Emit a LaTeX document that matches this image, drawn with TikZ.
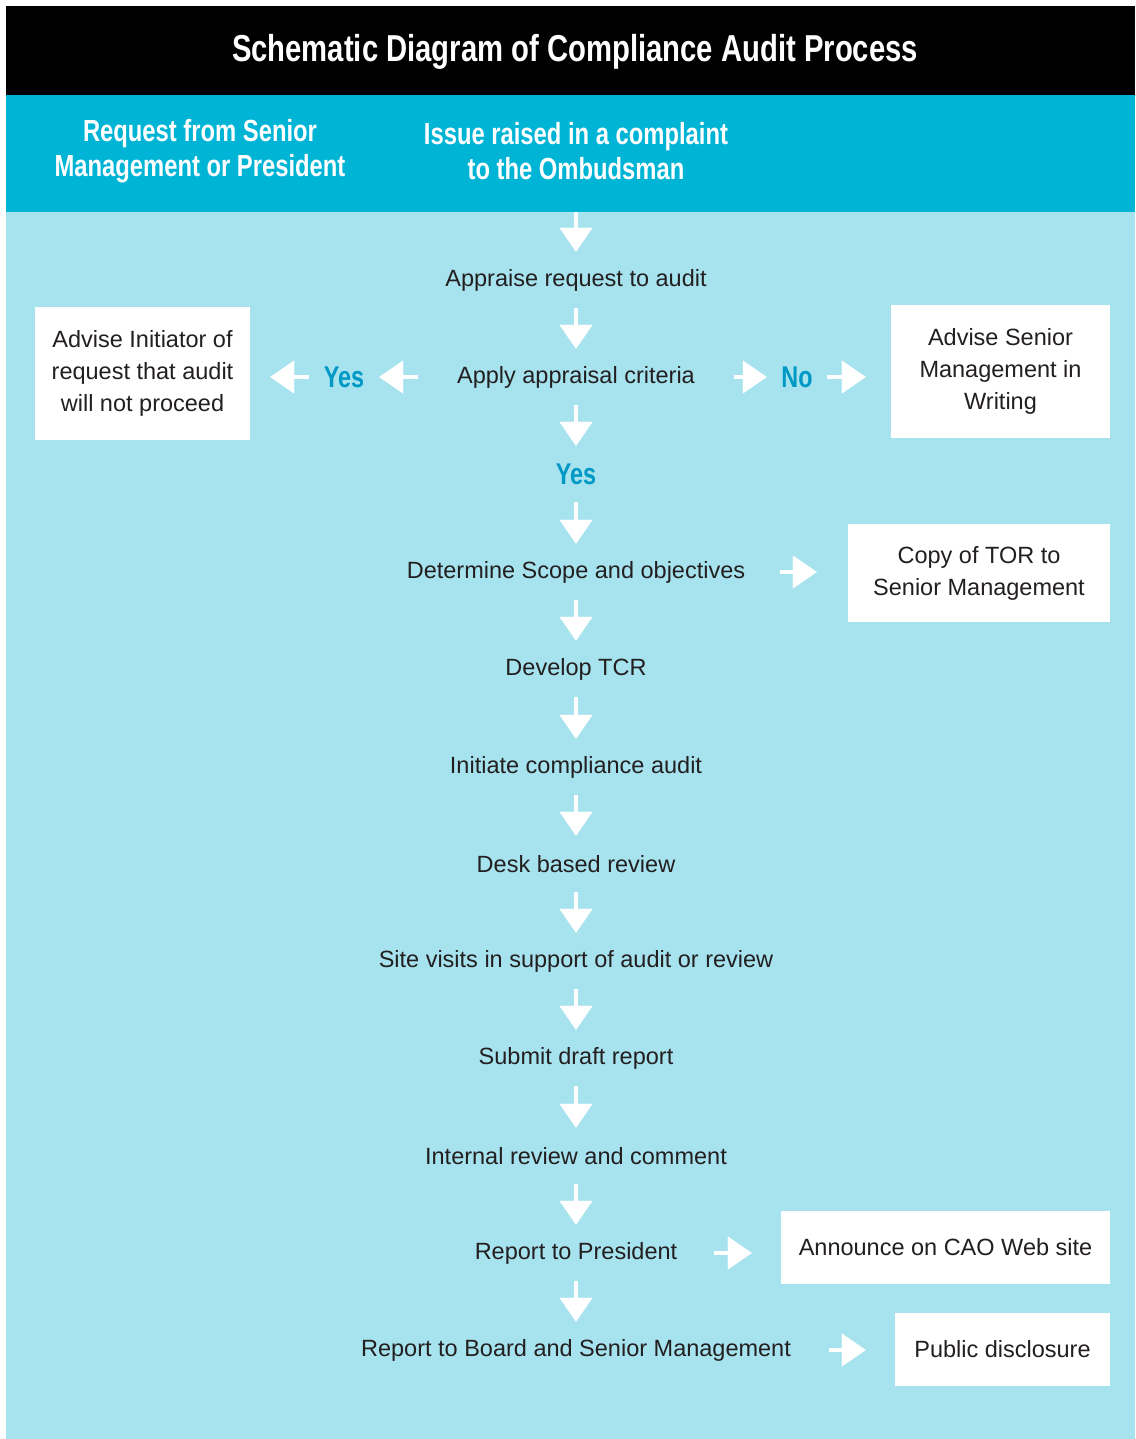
\documentclass[tikz,border=0pt]{standalone}
\usepackage{fontspec}
\setmainfont{Liberation Sans}
\newfontfamily\condfont[FakeStretch=0.78]{Liberation Sans}
\usetikzlibrary{positioning, arrows.meta}
\definecolor{cyanband}{HTML}{00B4D6}
\definecolor{paleblue}{HTML}{A6E3EE}
\definecolor{yesblue}{HTML}{0099C6}
\definecolor{bodytext}{HTML}{231F20}

\begin{document}
\begin{tikzpicture}[x=1pt, y=-1pt,
      stp/.style={minimum height=56pt, inner xsep=0pt, align=center, text=bodytext, font=\fontsize{23.5}{32}\selectfont},
      lbl/.style={stp, text=yesblue, font=\condfont\bfseries\fontsize{30}{32}\selectfont},
      box/.style={fill=white, inner sep=0pt, align=center, text=bodytext, font=\fontsize{23.5}{32}\selectfont},
      hd/.style={text=white, align=center, font=\condfont\bfseries\fontsize{30.5}{35}\selectfont},
      arr/.style={-{Triangle[width=33pt,length=24pt,line width=0.1pt]}, line width=4.5pt, white}]
      \useasboundingbox (0,0) rectangle (1135,1439);
      \fill[paleblue] (6,212) rectangle (1135,1439);
      \fill[black] (6,6) rectangle (1135,95);
      \fill[cyanband] (6,95) rectangle (1135,212);
      % header
      \node[hd, font=\condfont\bfseries\fontsize{37.5}{40}\selectfont] (title) at (575,52) {Schematic Diagram of Compliance Audit Process};
      \node[hd] (req) at (200,151) {Request from Senior\\Management or President};
      \node[hd] (iss) at (576,151) {Issue raised in a complaint\\to the Ombudsman};
      \coordinate (top) at (576,212);
      % main flow
      \node[stp] (appr) at (576,280) {Appraise request to audit};
      \node[stp, minimum width=316pt] (crit) at (576,377) {Apply appraisal criteria};
      \node[lbl] (yes) at (576,474) {Yes};
      \node[stp, minimum width=408pt] (scope) at (576,572) {Determine Scope and objectives};
      \node[stp] (tcr) at (576,669) {Develop TCR};
      \node[stp] (init) at (576,767) {Initiate compliance audit};
      \node[stp] (desk) at (576,864) {Desk based review};
      \node[stp] (site) at (576,961) {Site visits in support of audit or review};
      \node[stp] (draft) at (576,1058) {Submit draft report};
      \node[stp] (intl) at (576,1156) {Internal review and comment};
      \node[stp, minimum width=276pt] (pres) at (576,1253) {Report to President};
      \node[stp, minimum width=506pt] (board) at (576,1350) {Report to Board and Senior Management};
      % branches
      \node[lbl, minimum width=70pt, minimum height=0pt] (yesl) at (344,377) {Yes};
      \node[lbl, minimum width=60pt, minimum height=0pt] (no) at (797,377) {No};
      \node[box, minimum width=215pt, minimum height=133pt] (nogo) at (142.5,373.5) {Advise Initiator of\\request that audit\\will not proceed};
      \node[box, minimum width=219pt, minimum height=133pt] (advs) at (1000.5,371.5) {Advise Senior\\Management in\\Writing};
      \node[box, minimum width=262pt, minimum height=98pt] (tor) at (979,573) {Copy of TOR to\\Senior Management};
      \node[box, minimum width=329pt, minimum height=73pt] (web) at (945.5,1247.5) {Announce on CAO Web site};
      \node[box, minimum width=215pt, minimum height=73pt] (pub) at (1002.5,1349.5) {Public disclosure};
      % arrows
      \draw[arr](top)--(appr);\draw[arr](appr)--(crit);\draw[arr](crit)--(yes);\draw[arr](yes)--(scope);
      \draw[arr](scope)--(tcr);\draw[arr](tcr)--(init);\draw[arr](init)--(desk);\draw[arr](desk)--(site);
      \draw[arr](site)--(draft);\draw[arr](draft)--(intl);\draw[arr](intl)--(pres);\draw[arr](pres)--(board);
      \draw[arr](crit)--(yesl);\draw[arr, shorten >=20pt](yesl.west)--(yesl.west -| nogo.east);
      \draw[arr](crit)--(no);\draw[arr, shorten >=25pt](no.east)--(no.east -| advs.west);
      \draw[arr, shorten >=31pt](scope.east)--(scope.east -| tor.west);
      \draw[arr, shorten >=29pt](pres.east)--(pres.east -| web.west);
      \draw[arr, shorten >=29pt](board.east)--(board.east -| pub.west);
    \end{tikzpicture}
\end{document}
